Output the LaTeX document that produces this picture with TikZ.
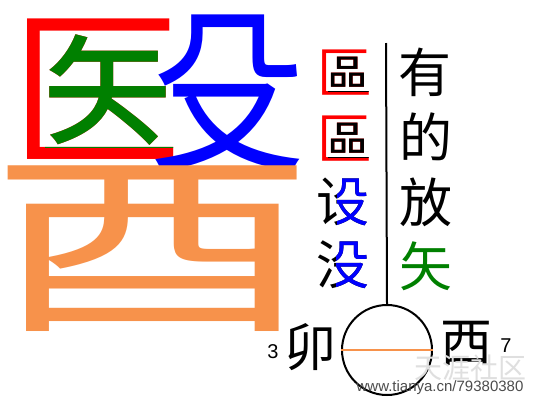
\documentclass[tikz,border=0pt]{standalone}
\usepackage{fontspec}
\setmainfont{Liberation Sans}
\newfontfamily\cjk{Noto Sans CJK SC}
\definecolor{myorange}{RGB}{247,146,75}
\definecolor{mygreen}{RGB}{0,128,0}
\newcommand\cj[2]{{\cjk\fontsize{#1pt}{#1pt}\selectfont #2}}
\tikzset{glyph/.style={inner sep=0pt, outer sep=0pt}}
\begin{document}
\begin{tikzpicture}[x=1pt,y=-1pt]
\useasboundingbox[fill=white] (0,0) rectangle (535,402);
% big character
\node[glyph,text=red] (yi) at (97,89) {\cj{170}{医}};
\begin{scope}
\clip (45,34) rectangle (190,147);
\node[glyph,text=mygreen] (shi) at (97,89) {\cj{170}{医}};
\end{scope}
\node[glyph,text=blue] (shu) at (228,94) {\scalebox{0.98}[1.12]{\cj{160}{殳}}};
\node[glyph,text=myorange] (you) at (152,249) {\scalebox{1.68}[1]{\cj{195}{酉}}};
% left column
\node[glyph,text=red] (q1) at (345,73) {\cj{55}{區}};
\begin{scope}\clip (328,56) rectangle (374,91);
\node[glyph] (q1b) at (345,73) {\cj{55}{區}};\end{scope}
\node[glyph,text=red] (q2) at (345,139) {\cj{55}{區}};
\begin{scope}\clip (328,122) rectangle (374,157);
\node[glyph] (q2b) at (345,139) {\cj{55}{區}};\end{scope}
\node[glyph] (s1) at (343,202) {\cj{53}{设}};
\begin{scope}\clip (337,170) rectangle (372,235);
\node[glyph,text=blue] (s1b) at (343,202) {\cj{53}{设}};\end{scope}
\node[glyph] (m1) at (343,265) {\cj{53}{没}};
\begin{scope}\clip (336,233) rectangle (372,298);
\node[glyph,text=blue] (m1b) at (343,265) {\cj{53}{没}};\end{scope}
% right column
\node[glyph] (r1) at (425,72) {\cj{53}{有}};
\node[glyph] (r2) at (426,137) {\cj{53}{的}};
\node[glyph] (r3) at (426,202) {\cj{53}{放}};
\node[glyph,text=mygreen] (r4) at (426,266) {\cj{53}{矢}};
% circle
\coordinate (top) at (386,43);
\node[circle,draw,line width=2pt,minimum size=90pt,inner sep=0pt] (o) at (387,350) {};
\draw[line width=2pt] (top) -- (o.north);
\draw[myorange,line width=2.5pt] (o.west) -- (o.east);
\node[glyph] (mao) at (310,347) {\cj{52}{卯}};
\node[glyph] (xi) at (466,343) {\cj{52}{西}};
\node[glyph,font=\fontsize{20pt}{20pt}\selectfont] (n3) at (273,352) {3};
\node[glyph,font=\fontsize{20pt}{20pt}\selectfont] (n7) at (506,346) {7};
% watermark
\node[glyph,text=gray!25] (wm1) at (470,368) {\cj{28}{天涯社区}};
\node[glyph,text=black!70,font=\fontsize{15pt}{15pt}\selectfont] (wm2) at (440,388) {www.tianya.cn/79380380};
\end{tikzpicture}
\end{document}
